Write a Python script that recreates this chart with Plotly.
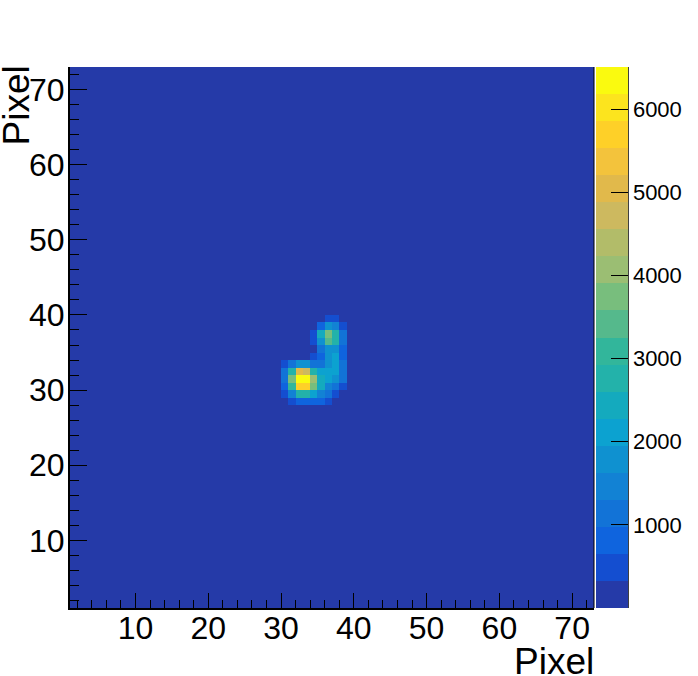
import plotly.graph_objects as go

# Axis definitions
bin_edges = list(range(1, 74))
z_max = 6510
major_ticks = [10, 20, 30, 40, 50, 60, 70]
bar_ticks = [1000, 2000, 3000, 4000, 5000, 6000]
background_value = 50
axis_title = "Pixel"

# Palette bands of the colour bar, low to high
band_colors = [
    "#253aa8", "#144ed0", "#0f64de", "#1273d7", "#1282d4",
    "#0f91d0", "#0ca2d0", "#14aabe", "#23b2aa", "#32b69b",
    "#55b98c", "#78be7d", "#9bbe73", "#b2bc69", "#cdb95f",
    "#e1b94b", "#f3c33c", "#fed028", "#fce41e", "#fafa0f",
]

# Occupied cells: first column, then values per row
row_28 = (31, [490, 810, 810, 810, 810, 490])
row_29 = (30, [490, 1460, 2770, 2770, 2120, 1460, 1140, 490])
row_30 = (30, [810, 3090, 5690, 5690, 3740, 2440, 1460, 1140, 490])
row_31 = (30, [1140, 3740, 6350, 6350, 4070, 2440, 2120, 1790, 1140])
row_32 = (30, [1140, 2770, 5040, 4560, 2770, 2120, 2120, 2120, 1140])
row_33 = (30, [490, 1140, 1790, 1790, 1140, 1140, 1790, 2120, 1140])
row_34 = (34, [490, 810, 1790, 2120, 810])
row_35 = (35, [1140, 1790, 1790, 970])
row_36 = (34, [490, 1790, 3420, 2770, 1140])
row_37 = (34, [490, 2280, 3740, 2770, 1140])
row_38 = (35, [810, 1790, 1460, 490])
row_39 = (36, [490, 490])

occupied_rows = {
    28: row_28, 29: row_29, 30: row_30, 31: row_31, 32: row_32, 33: row_33,
    34: row_34, 35: row_35, 36: row_36, 37: row_37, 38: row_38, 39: row_39,
}

z = [[background_value] * (len(bin_edges) - 1) for _ in range(len(bin_edges) - 1)]
for row, (first_col, values) in occupied_rows.items():
    for offset, value in enumerate(values):
        z[row - 1][first_col - 1 + offset] = value

# Stepped colour scale
n = len(band_colors)
colorscale = []
for i, c in enumerate(band_colors):
    colorscale.append([i / n, c])
    colorscale.append([(i + 1) / n, c])

fig = go.Figure(
    go.Heatmap(
        z=z,
        x=bin_edges,
        y=bin_edges,
        zmin=0,
        zmax=z_max,
        colorscale=colorscale,
        zsmooth=False,
        colorbar=dict(
            x=(596 - 70) / 524,
            xanchor="left",
            xref="paper",
            y=0.5,
            yanchor="middle",
            len=1,
            lenmode="fraction",
            thickness=32,
            thicknessmode="pixels",
            xpad=0,
            ypad=0,
            outlinewidth=0,
            ticks="inside",
            ticklen=17,
            tickwidth=1,
            tickcolor="black",
            tickvals=bar_ticks,
            ticktext=[str(t) for t in bar_ticks],
            tickfont=dict(family="Liberation Sans", size=22, color="black"),
        ),
    )
)

font = dict(family="Liberation Sans", size=32, color="black")
fig.update_layout(
    width=698,
    height=676,
    margin=dict(l=70, r=104, t=67, b=68, autoexpand=False),
    paper_bgcolor="white",
    plot_bgcolor="white",
    showlegend=False,
    xaxis=dict(
        range=[1, 73],
        tickvals=major_ticks,
        ticks="inside",
        ticklen=15,
        tickwidth=1,
        tickcolor="black",
        tickfont=font,
        ticklabelstandoff=-9,
        showgrid=False,
        zeroline=False,
        showline=True,
        linecolor="black",
        linewidth=2,
        minor=dict(dtick=2, tick0=0, ticks="inside", ticklen=8, tickwidth=1, tickcolor="black", showgrid=False),
    ),
    yaxis=dict(
        range=[1, 73],
        tickvals=major_ticks,
        ticks="inside",
        ticklen=17,
        tickwidth=1,
        tickcolor="black",
        tickfont=font,
        ticklabelstandoff=-3,
        showgrid=False,
        zeroline=False,
        showline=True,
        linecolor="black",
        linewidth=2,
        minor=dict(dtick=2, tick0=0, ticks="inside", ticklen=9, tickwidth=1, tickcolor="black", showgrid=False),
    ),
    annotations=[
        dict(
            text=axis_title, xref="paper", yref="paper", x=1, y=0, xanchor="right", yanchor="top",
            xshift=2, yshift=-31, showarrow=False, font=dict(family="Liberation Sans", size=37, color="black"),
        ),
        dict(
            text=axis_title, xref="paper", yref="paper", x=0, y=1, xanchor="right", yanchor="top",
            xshift=-32, yshift=3, textangle=-90, showarrow=False,
            font=dict(family="Liberation Sans", size=37, color="black"),
        ),
    ],
    shapes=[
        dict(type="line", xref="paper", yref="paper", x0=1, x1=1, y0=0, y1=1,
             line=dict(color="black", width=1), layer="above"),
        dict(type="line", xref="paper", yref="paper", x0=(628 - 70) / 524, x1=(628 - 70) / 524, y0=0, y1=1,
             line=dict(color="black", width=1.5), layer="above"),
    ],
)

fig.write_html("out.html", config={"displayModeBar": False}, post_script="document.body.style.margin='0';")
